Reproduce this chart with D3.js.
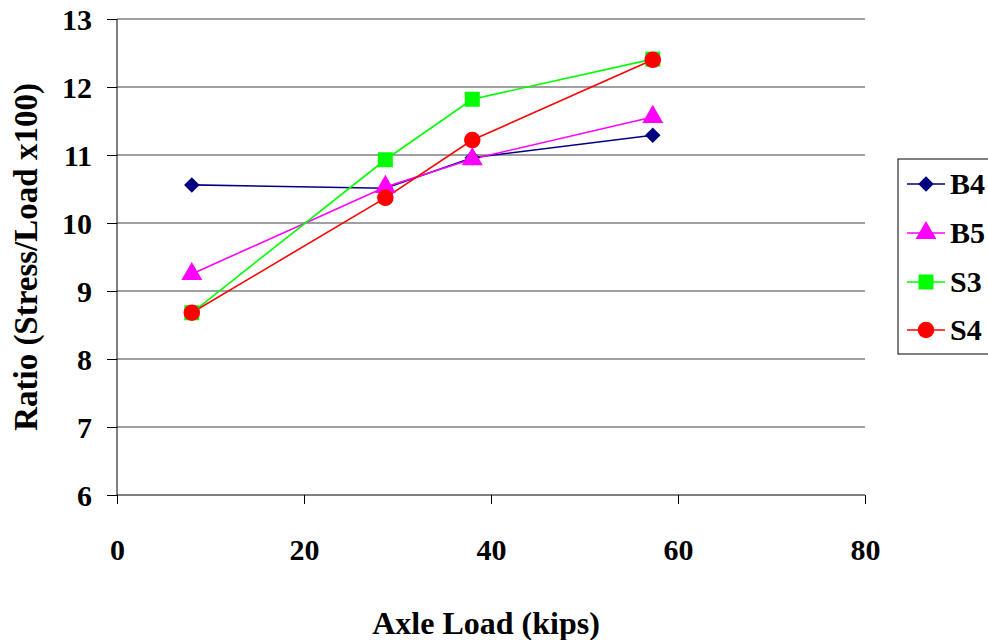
<!DOCTYPE html>
<html><head><meta charset="utf-8">
<script src="https://cdn.jsdelivr.net/npm/d3@7"></script>
</head><body>
<script>
const xValues = [8, 28.7, 38, 57.3];
const seriesNames = ["B4", "B5", "S3", "S4"];
const B4 = [10.56, 10.51, 10.96, 11.29];
const B5 = [9.25, 10.53, 10.94, 11.56];
const S3 = [8.68, 10.93, 11.82, 12.41];
const S4 = [8.68, 10.37, 11.22, 12.40];
const xTicks = [0, 20, 40, 60, 80];
const yTicks = [6, 7, 8, 9, 10, 11, 12, 13];
const colors = {B4: "#000080", B5: "#FF00FF", S3: "#00FF00", S4: "#FF0000"};
const symbols = {B4: d3.symbolSquare, B5: d3.symbolTriangle, S3: d3.symbolSquare, S4: d3.symbolCircle};
const symSizes = {B4: 120, B5: 190, S3: 225, S4: 215};
const seriesData = {B4, B5, S3, S4};

const W = 988, H = 640;
const FONT = "Liberation Serif";
d3.select("body").style("margin", "0px");
const svg = d3.select("body").append("svg").attr("width", W).attr("height", H)
  .style("display", "block").style("font-family", FONT);

const x = d3.scaleLinear().domain([0, 80]).range([117, 865]);
const y = d3.scaleLinear().domain([6, 13]).range([495, 19]);

// gridlines
svg.append("g").selectAll("line").data(yTicks.filter(d => d > 6)).join("line")
  .attr("x1", x(0)).attr("x2", x(80)).attr("y1", d => y(d)).attr("y2", d => y(d))
  .attr("stroke", "#808080").attr("stroke-width", 1.5);

// y axis
const yAxis = svg.append("g").attr("transform", `translate(${x(0)},0)`)
  .call(d3.axisLeft(y).tickValues(yTicks).tickSize(10).tickPadding(15).tickFormat(d3.format("d")));
yAxis.attr("font-family", null);
yAxis.select(".domain").attr("stroke", "#000").attr("d", `M0,${y(13)}V${y(6)}`);
yAxis.selectAll(".tick line").attr("stroke", "#000");
yAxis.selectAll("text").style("font-family", FONT).attr("font-weight", "bold")
  .attr("font-size", 30).attr("fill", "#000").attr("dy", "0.34em");

// x axis
const xAxis = svg.append("g").attr("transform", `translate(0,${y(6)})`)
  .call(d3.axisBottom(x).tickValues(xTicks).tickSize(9).tickPadding(35).tickFormat(d3.format("d")));
xAxis.attr("font-family", null);
xAxis.select(".domain").attr("stroke", "#000").attr("d", `M${x(0)},0H${x(80)}`);
xAxis.selectAll(".tick line").attr("stroke", "#000");
xAxis.selectAll("text").style("font-family", FONT).attr("font-weight", "bold")
  .attr("font-size", 30).attr("fill", "#000");

// titles
svg.append("text").attr("x", 486).attr("y", 634).attr("text-anchor", "middle")
  .style("font-family", FONT).attr("font-weight", "bold").attr("font-size", 32).text("Axle Load (kips)");
svg.append("text").attr("transform", "translate(37,257) rotate(-90)").attr("text-anchor", "middle")
  .style("font-family", FONT).attr("font-weight", "bold").attr("font-size", 33).text("Ratio (Stress/Load x100)");

// series
const line = d3.line().x((d, i) => x(xValues[i])).y(d => y(d));
seriesNames.forEach(name => {
  svg.append("path").attr("d", line(seriesData[name])).attr("fill", "none")
    .attr("stroke", colors[name]).attr("stroke-width", 1.6);
});
const symPath = name => d3.symbol().type(symbols[name]).size(symSizes[name])();
const rot = name => name === "B4" ? " rotate(45)" : "";
seriesNames.forEach(name => {
  svg.append("g").selectAll("path").data(seriesData[name]).join("path")
    .attr("transform", (d, i) => `translate(${x(xValues[i])},${y(d)})` + rot(name))
    .attr("d", symPath(name))
    .attr("fill", colors[name]);
});

// legend
const lg = svg.append("g");
lg.append("rect").attr("x", 898).attr("y", 159).attr("width", 120).attr("height", 195)
  .attr("fill", "#fff").attr("stroke", "#000").attr("stroke-width", 1);
const legY = [184, 233, 282, 330];
seriesNames.forEach((name, i) => {
  const g = lg.append("g").attr("transform", `translate(0,${legY[i]})`);
  g.append("line").attr("x1", 907).attr("x2", 945).attr("stroke", colors[name]).attr("stroke-width", 1.6);
  g.append("path").attr("transform", "translate(926,0)" + rot(name))
    .attr("d", symPath(name)).attr("fill", colors[name]);
  g.append("text").attr("x", 950).attr("y", 10).style("font-family", FONT).attr("font-weight", "bold")
    .attr("font-size", 30).text(name);
});
</script>
</body></html>
